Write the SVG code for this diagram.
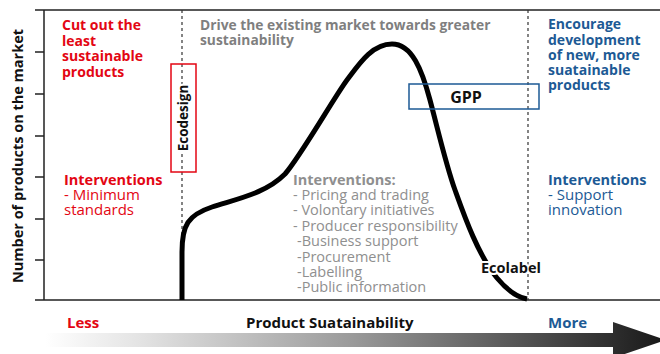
<svg xmlns="http://www.w3.org/2000/svg" width="660" height="354" viewBox="0 0 660 354">
<defs>
<linearGradient id="arrowGrad" x1="45" y1="0" x2="660" y2="0" gradientUnits="userSpaceOnUse">
<stop offset="0" stop-color="#ffffff"/>
<stop offset="0.15" stop-color="#e4e4e4"/>
<stop offset="0.5" stop-color="#9a9a9a"/>
<stop offset="1" stop-color="#1a1a1a"/>
</linearGradient>
</defs>
<style>
text{font-family:"Open Sans","Liberation Sans",sans-serif;}
.b{font-weight:700;font-size:14px;}
.bi{font-weight:700;font-size:14.5px;}
.r{font-weight:400;font-size:15px;}
.red{fill:#e30613;}
.blue{fill:#1d5a95;}
.gray{fill:#7f7f7f;}
.lgray{fill:#8f8f8f;}
.blk{fill:#111;}
.halo{stroke:#fff;stroke-width:4;paint-order:stroke;stroke-linejoin:round;}
.axis{stroke:#222;stroke-width:1.5;fill:none;}
.dash{stroke:#333;stroke-width:1.2;stroke-dasharray:3 3;fill:none;}
</style>
<rect width="660" height="354" fill="#ffffff"/>

<g id="axes">
<path class="axis" d="M44,10 H660 M44,10 V300 M35,300 H660"/>
<path class="axis" d="M35,10 H44 M35,52 H44 M35,94 H44 M35,136 H44 M35,177 H44 M35,219 H44 M35,260 H44"/>
<text class="b blk" style="font-size:14.5px" transform="translate(23,156) rotate(-90)" text-anchor="middle">Number of products on the market</text>
</g>

<g id="dividers">
<path class="dash" d="M182,10 V300 M528,10 V300"/>
</g>

<g id="curve">
<path d="M182,300 L182,252 C182,225 188,215 212,207 C240,198 266,193 285,174 C300,157 335,96 347,80 C359,64 372,44 392,44 C412,44 422,70 430,100 C438,130 446,165 455,190 C464,215 478,255 497,278 C507,290 517,297 527,299" fill="none" stroke="#000" stroke-width="5" stroke-linecap="butt" stroke-linejoin="round"/>
</g>

<g id="ecodesign">
<rect x="171" y="64" width="25" height="108" fill="none" stroke="#e30613" stroke-width="1.5"/>
<text class="b blk halo" style="font-size:13.5px" transform="translate(188,118) rotate(-90)" text-anchor="middle">Ecodesign</text>
</g>

<g id="gpp">
<rect x="409" y="84" width="130" height="25" fill="none" stroke="#1d5a95" stroke-width="1.5"/>
<text class="b blk" style="font-size:16px" x="466" y="102.5" text-anchor="middle">GPP</text>
</g>

<g id="ecolabel">
<text class="b blk halo" style="font-size:14.5px" x="481" y="273">Ecolabel</text>
</g>

<g id="left">
<text class="b red"><tspan x="62" y="30">Cut out the</tspan><tspan x="62" y="45.5">least</tspan><tspan x="62" y="61">sustainable</tspan><tspan x="62" y="76.5">products</tspan></text>
<text class="bi red" x="64" y="185">Interventions</text>
<text class="r red"><tspan x="64" y="200">- Minimum</tspan><tspan x="64" y="215">standards</tspan></text>
</g>

<g id="middle">
<text class="b gray" style="font-size:13.8px"><tspan x="200" y="30">Drive the existing market towards greater</tspan><tspan x="200" y="45">sustainability</tspan></text>
<text class="bi lgray" x="293" y="185">Interventions:</text>
<text class="r lgray" style="font-size:14.5px"><tspan x="293" y="200">- Pricing and trading</tspan><tspan x="293" y="215">- Volontary initiatives</tspan><tspan x="293" y="231">- Producer responsibility</tspan><tspan x="297" y="246">-Business support</tspan><tspan x="297" y="262">-Procurement</tspan><tspan x="297" y="277">-Labelling</tspan><tspan x="297" y="292">-Public information</tspan></text>
</g>

<g id="right">
<text class="b blue"><tspan x="548" y="29">Encourage</tspan><tspan x="548" y="44.5">development</tspan><tspan x="548" y="60">of new, more</tspan><tspan x="548" y="75">suatainable</tspan><tspan x="548" y="90">products</tspan></text>
<text class="bi blue" x="548" y="185">Interventions</text>
<text class="r blue"><tspan x="548" y="200">- Support</tspan><tspan x="548" y="215">innovation</tspan></text>
</g>

<g id="scale">
<polygon points="45,333 613,333 613,322 666,340 613,358 613,347 45,347" fill="url(#arrowGrad)"/>
<text class="b red" style="font-size:15px" x="67" y="328">Less</text>
<text class="b blk" style="font-size:15px" x="246" y="328">Product Suatainability</text>
<text class="b blue" style="font-size:15px" x="548" y="328">More</text>
</g>
</svg>
